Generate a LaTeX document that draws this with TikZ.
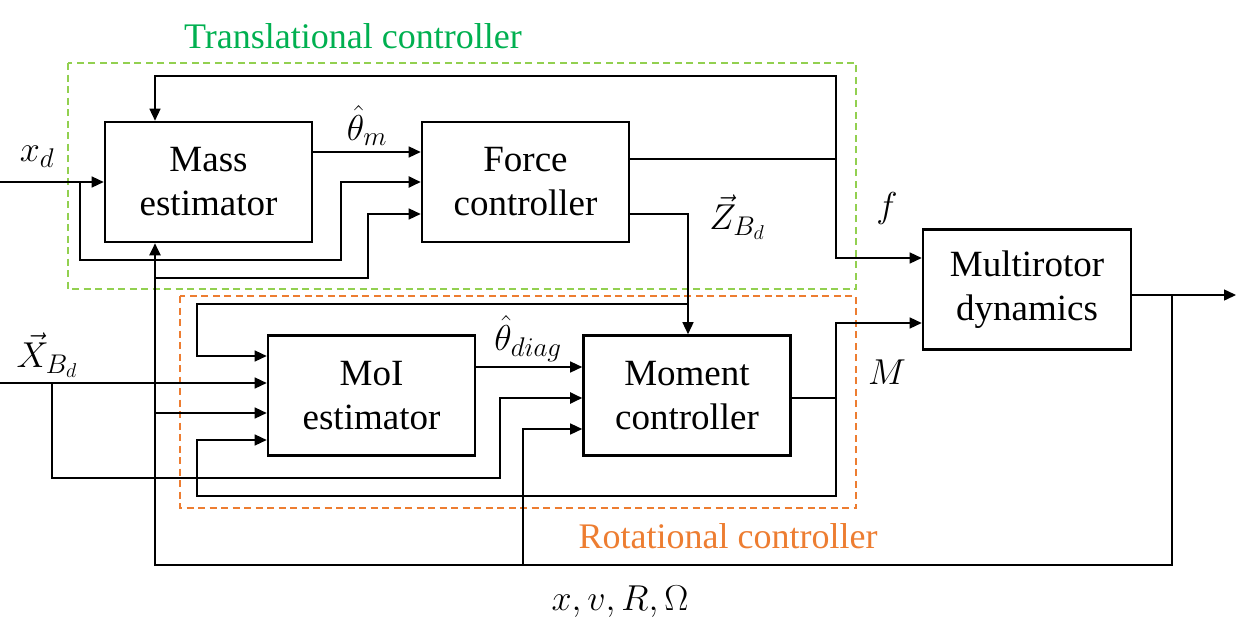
\documentclass[tikz,border=0pt]{standalone}
\usepackage{fix-cm}
\usepackage{fontspec}
\setmainfont{Liberation Serif}
\DeclareMathSizes{36}{36}{27}{20}
\usetikzlibrary{arrows.meta,calc}
\definecolor{grn}{HTML}{92D050}
\definecolor{grntxt}{HTML}{00B050}
\definecolor{org}{HTML}{ED7D31}
\begin{document}
\begin{tikzpicture}[x=1pt,y=-1pt,
  blk/.style={draw,line width=2.6pt,minimum width=207pt,minimum height=120pt,align=center,inner sep=0pt,font=\fontsize{37}{44}\selectfont},
  con/.style={line width=1.4pt},
  thk/.style={line width=2pt},
  arr/.style={line width=1.4pt,-{Triangle[length=12pt,width=11pt]}},
  lbl/.style={inner sep=0pt,font=\fontsize{36}{43}\selectfont},
  grp/.style={line width=1.6pt,dash pattern=on 7pt off 4.5pt}]
\useasboundingbox (0,0) rectangle (1249,626);
% group frames
\draw[grp,grn] (68,63) rectangle (856,289);
\draw[grp,org] (180,296) rectangle (856,508);
\node[lbl,text=grntxt] (ttl1) at (353,36) {Translational controller};
\node[lbl,text=org] (ttl2) at (728,536) {Rotational controller};
% blocks
\node[blk] (mass) at (208.5,182) {Mass\\estimator};
\node[blk] (force) at (525.5,182) {Force\\controller};
\node[blk] (moi) at (371.5,395.5) {MoI\\estimator};
\node[blk] (moment) at (687,395.5) {Moment\\controller};
\node[blk,minimum width=208pt] (dyn) at (1027,289.5) {Multirotor\\dynamics};
% coordinates
\coordinate (xdin) at (0,182);
\coordinate (xdb) at (80,182);
\coordinate (xbin) at (0,383);
\coordinate (xbb) at (52,383);
\coordinate (fb) at (836,159);
\coordinate (mb) at (836,398);
\coordinate (zb) at (688,304);
\coordinate (yb) at (1172,295);
\coordinate (yout) at (1236,295);
\coordinate (fbl) at (155,565);
% translational
\draw[arr] (xdin) -- (mass.west |- xdin);
\draw[arr,thk] (xdb) |- (341,260) |- (force.west |- xdb);
\draw[arr] (mass.east |- 0,152) -- (force.west |- 0,152);
\draw[arr] (155,278) -| (368,214) -- (force.west |- 0,214);
\draw[thk] (force.east |- fb) -- (fb);
\draw[arr] (fb) |- (155,76) -- (mass.north -| 155,0);
\draw[arr] (fb) |- (dyn.west |- 0,258);
\draw[arr] (force.east |- 0,214) -| (moment.north -| zb);
% rotational
\draw[arr] (zb) -| (197,356) -- (moi.west |- 0,356);
\draw[arr] (xbin) -- (moi.west |- xbin);
\draw[arr,thk] (xbb) |- (500,478) |- (moment.west |- 0,398);
\draw[arr] (155,413) -- (moi.west |- 0,413);
\draw[arr] (moi.east |- 0,367) -- (moment.west |- 0,367);
\draw[thk] (moment.east |- mb) -- (mb);
\draw[arr] (mb) |- (dyn.west |- 0,323);
\draw[arr] (mb) |- (197,496) |- (moi.west |- 0,440);
% output and feedback
\draw[arr] (dyn.east |- yb) -- (yout);
\draw[arr,thk] (yb) |- (fbl) -- (mass.south -| fbl);
\draw[arr] (523,565) |- (moment.west |- 0,429);
% labels
\node[lbl] (lxd) at (37,157) {$x_d$};
\node[lbl,anchor=south] (lthm) at (367,146) {$\hat{\theta}_m$};
\node[lbl,anchor=south] (lz) at (737,240) {$\vec{Z}_{B_d}$};
\node[lbl] (lf) at (887,208) {$f$};
\node[lbl,anchor=south] (lx) at (47,378) {$\vec{X}_{B_d}$};
\node[lbl,anchor=south] (lthd) at (528,362) {$\hat{\theta}_{diag}$};
\node[lbl] (lm) at (887,372) {$M$};
\node[lbl] (lst) at (620,602) {$x,v,R,\Omega$};
\end{tikzpicture}
\end{document}
